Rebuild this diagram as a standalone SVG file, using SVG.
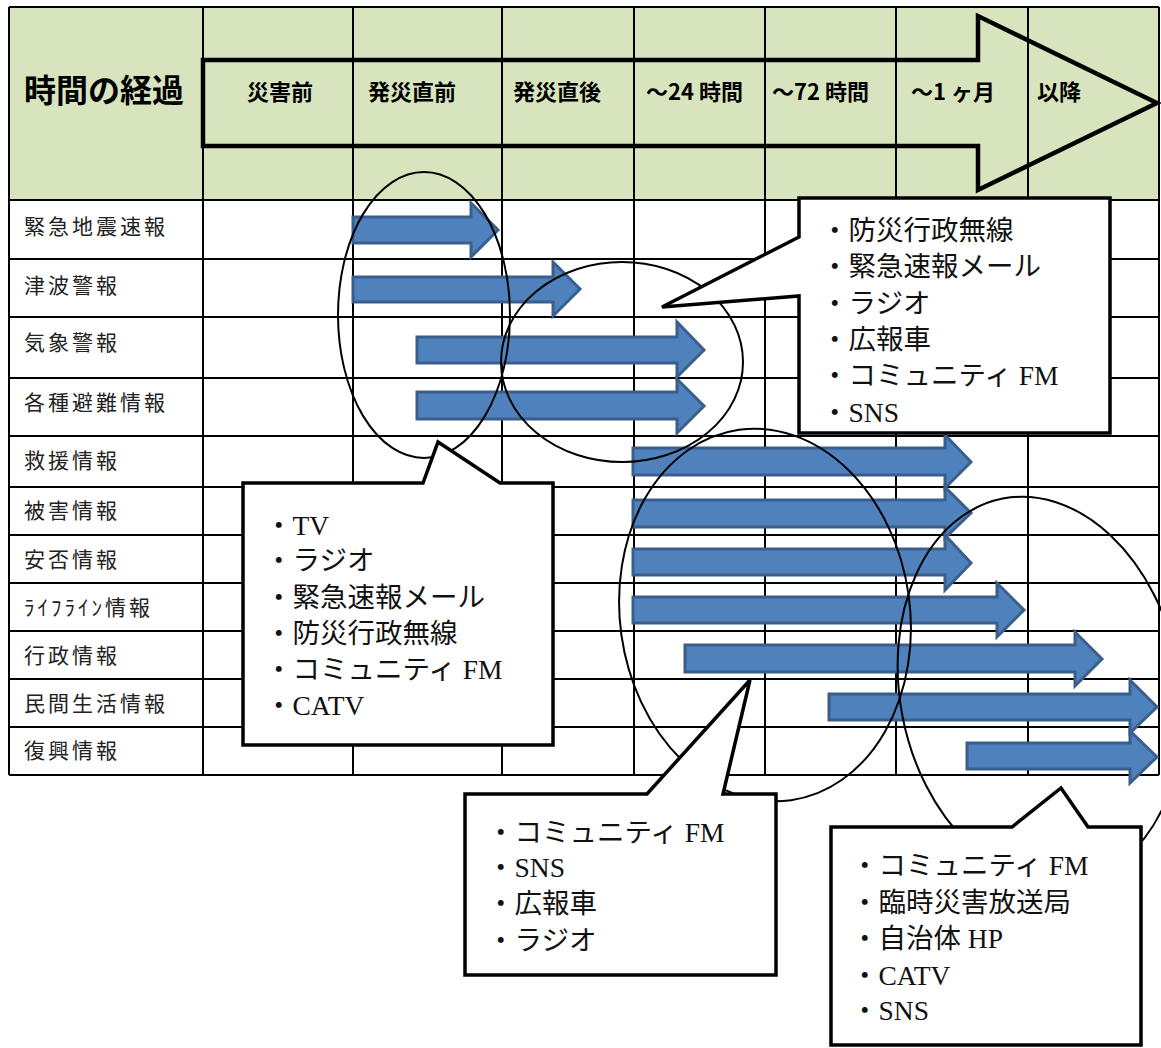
<svg xmlns="http://www.w3.org/2000/svg" width="1161" height="1048" viewBox="0 0 1161 1048">
<style>
.grid{stroke:#000;stroke-width:2;fill:none}
.hdr{font-family:'Noto Sans CJK JP',sans-serif;font-weight:bold;font-size:22px;fill:#000}
.row{font-family:'Noto Sans CJK JP',sans-serif;font-size:21px;letter-spacing:3px;fill:#222}
.barr{fill:#4F81BD;stroke:#3A5F8C;stroke-width:3;stroke-linejoin:miter}
.ell{fill:none;stroke:#000;stroke-width:2}
.call{fill:#fff;stroke:#000;stroke-width:3.5;stroke-linejoin:miter}
.ct{font-family:'Liberation Serif','Noto Sans CJK JP',serif;font-size:27.5px;fill:#111}
</style>
<rect x="0" y="0" width="1161" height="1048" fill="#fff"/>
<g id="table">
<rect x="9" y="7" width="1150" height="193" fill="#D7E4BD"/>
<rect x="9" y="200" width="1150" height="575" fill="#fff"/>
<path class="grid" d="M9,7V775M203,7V775M353,7V775M502,7V775M634,7V775M765,7V775M896,7V775M1028,7V775M1159,7V775"/>
<path class="grid" d="M9,7H1159M9,200H1159M9,259H1159M9,317H1159M9,378H1159M9,436H1159M9,487H1159M9,535H1159M9,583H1159M9,631H1159M9,679H1159M9,727H1159M9,775H1159"/>
</g>
<g id="header">
<text x="24" y="102" font-family="'Noto Sans CJK JP',sans-serif" font-weight="bold" font-size="32">時間の経過</text>
<path d="M203,60H978V16L1157,103L978,190V146H203Z" fill="none" stroke="#000" stroke-width="4.5" stroke-linejoin="miter"/>
<text class="hdr" x="247" y="100">災害前</text>
<text class="hdr" x="368" y="100">発災直前</text>
<text class="hdr" x="513" y="100">発災直後</text>
<text class="hdr" x="646" y="100">～24 時間</text>
<text class="hdr" x="772" y="100">～72 時間</text>
<text class="hdr" x="911" y="100">～1 ヶ月</text>
<text class="hdr" x="1037" y="100">以降</text>
</g>
<g id="rowlabels">
<text class="row" x="24" y="234">緊急地震速報</text>
<text class="row" x="24" y="293">津波警報</text>
<text class="row" x="24" y="350">気象警報</text>
<text class="row" x="24" y="410">各種避難情報</text>
<text class="row" x="24" y="468">救援情報</text>
<text class="row" x="24" y="518">被害情報</text>
<text class="row" x="24" y="567">安否情報</text>
<text class="row" x="24" y="615" letter-spacing="0.5">ﾗｲﾌﾗｲﾝ情報</text>
<text class="row" x="24" y="663">行政情報</text>
<text class="row" x="24" y="711">民間生活情報</text>
<text class="row" x="24" y="758">復興情報</text>
</g>
<g id="connectors">
<polygon class="barr" points="353,217 471,217 471,203 498,230 471,257 471,243 353,243"/>
<polygon class="barr" points="353,277 553,277 553,262 580,289 553,316 553,302 353,302"/>
<polygon class="barr" points="417,337 677,337 677,322 704,350 677,377 677,363 417,363"/>
<polygon class="barr" points="417,392 677,392 677,379 704,406 677,433 677,419 417,419"/>
<polygon class="barr" points="633,448 945,448 945,435 971,462 945,488 945,475 633,475"/>
<polygon class="barr" points="633,500 945,500 945,487 971,513 945,538 945,527 633,527"/>
<polygon class="barr" points="633,549 945,549 945,535 971,563 945,590 945,575 633,575"/>
<polygon class="barr" points="633,597 997,597 997,583 1024,610 997,637 997,623 633,623"/>
<polygon class="barr" points="685,645 1075,645 1075,632 1102,659 1075,686 1075,672 685,672"/>
<polygon class="barr" points="829,694 1130,694 1130,680 1157,707 1130,733 1130,720 829,720"/>
<polygon class="barr" points="967,743 1130,743 1130,731 1157,757 1130,783 1130,769 967,769"/>
</g>
<g id="ellipses">
<ellipse class="ell" cx="424" cy="315" rx="86" ry="143"/>
<ellipse class="ell" cx="622" cy="362" rx="121" ry="100"/>
<ellipse class="ell" cx="765" cy="615" rx="145" ry="187" transform="rotate(-8 765 615)"/>
<ellipse class="ell" cx="1040" cy="690" rx="140" ry="195" transform="rotate(-11 1040 690)"/>
</g>
<g id="callout-top">
<path class="call" d="M799,198H1110V433H799V296L662,307L799,237Z"/>
<text class="ct" x="821" y="240">・防災行政無線</text>
<text class="ct" x="821" y="276">・緊急速報メール</text>
<text class="ct" x="821" y="313">・ラジオ</text>
<text class="ct" x="821" y="349">・広報車</text>
<text class="ct" x="821" y="385">・コミュニティ FM</text>
<text class="ct" x="821" y="422">・SNS</text>
</g>
<g id="callout-left">
<path class="call" d="M243,483H423L438,442L500,483H553V745H243Z"/>
<text class="ct" x="265" y="535">・TV</text>
<text class="ct" x="265" y="570">・ラジオ</text>
<text class="ct" x="265" y="607">・緊急速報メール</text>
<text class="ct" x="265" y="643">・防災行政無線</text>
<text class="ct" x="265" y="679">・コミュニティ FM</text>
<text class="ct" x="265" y="715">・CATV</text>
</g>
<g id="callout-mid">
<path class="call" d="M465,794H647L750,680L723,794H776V975H465Z"/>
<text class="ct" x="487" y="842">・コミュニティ FM</text>
<text class="ct" x="487" y="877">・SNS</text>
<text class="ct" x="487" y="913">・広報車</text>
<text class="ct" x="487" y="950">・ラジオ</text>
</g>
<g id="callout-right">
<path class="call" d="M831,827H1012L1061,788L1088,827H1141V1045H831Z"/>
<text class="ct" x="851" y="875">・コミュニティ FM</text>
<text class="ct" x="851" y="912">・臨時災害放送局</text>
<text class="ct" x="851" y="948">・自治体 HP</text>
<text class="ct" x="851" y="985">・CATV</text>
<text class="ct" x="851" y="1020">・SNS</text>
</g>
</svg>
